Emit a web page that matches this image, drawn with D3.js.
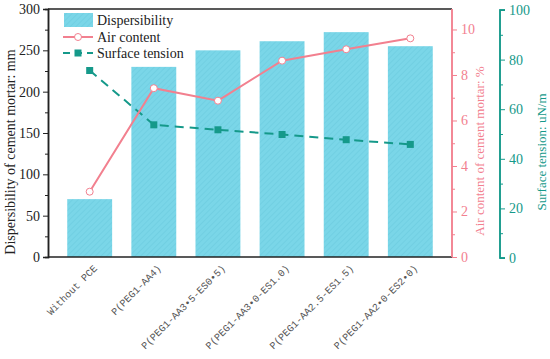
<!DOCTYPE html>
<html>
<head>
<meta charset="utf-8">
<script src="https://cdn.jsdelivr.net/npm/d3@7"></script>
<style>
body { margin: 0; background: #fff; }
text { font-family: "Liberation Serif", "Times New Roman", serif; }
</style>
</head>
<body>
<svg id="chart" width="550" height="359"></svg>
<script>
var categories = ['Without PCE', 'P(PEG1-AA4)', 'P(PEG1-AA3\u20225-ES0\u20225)',
    'P(PEG1-AA3\u20220-ES1.0)', 'P(PEG1-AA2.5-ES1.5)', 'P(PEG1-AA2\u20220-ES2\u20220)'];
var dispersibility = [70, 230, 250, 261, 272, 255];
var airContent = [2.87, 7.42, 6.87, 8.63, 9.13, 9.61];
var surfaceTension = [75.6, 53.7, 51.7, 49.8, 47.7, 45.8];
var leftTicks = [0, 50, 100, 150, 200, 250, 300];
var airTicks = [0, 2, 4, 6, 8, 10];
var tensionTicks = [0, 20, 40, 60, 80, 100];

var pink = '#f2808f', teal = '#15998a', barFill = '#7ad6e8';
var serif = '"Liberation Serif", "Times New Roman", serif';

var svg = d3.select('#chart');
var pLeft = 48, pRight = 452, pTop = 9, pBottom = 257;

var defs = svg.append('defs');
var pat = defs.append('pattern').attr('id', 'hatch')
    .attr('patternUnits', 'userSpaceOnUse').attr('width', 4).attr('height', 4)
    .attr('patternTransform', 'rotate(45)');
pat.append('rect').attr('width', 4).attr('height', 4).attr('fill', barFill);
pat.append('line').attr('x1', 0).attr('y1', 0).attr('x2', 0).attr('y2', 4)
    .attr('stroke', '#6acbde').attr('stroke-width', 1.2);

var x = d3.scaleBand().domain(categories).range([pLeft, pRight]).padding(0.3);
var y = d3.scaleLinear().domain([0, 300]).range([pBottom, pTop]);
var yAir = d3.scaleLinear().domain([0, 10.9]).range([pBottom, pTop]);
var yTen = d3.scaleLinear().domain([0, 100]).range([258, 10]);

// bars
svg.append('g').selectAll('rect').data(dispersibility).enter().append('rect')
    .attr('x', function(d, i) { return x(categories[i]); })
    .attr('y', function(d) { return y(d); })
    .attr('width', x.bandwidth())
    .attr('height', function(d) { return pBottom - y(d); })
    .attr('fill', 'url(#hatch)');

// frame
svg.append('line').attr('x1', pLeft).attr('x2', pRight).attr('y1', pTop).attr('y2', pTop)
    .attr('stroke', '#222').attr('stroke-width', 1.5);

// left axis
var gL = svg.append('g').attr('transform', 'translate(' + pLeft + ',0)')
    .call(d3.axisLeft(y).tickValues(leftTicks).tickSize(5).tickPadding(3))
    .attr('font-family', serif);
gL.append('g').call(d3.axisLeft(y).tickValues(d3.range(25, 300, 50)).tickSize(3).tickFormat(''));
gL.selectAll('.domain').attr('stroke', '#222').attr('stroke-width', 1.5);
gL.selectAll('line').attr('stroke', '#222');
gL.selectAll('text').attr('font-size', 14).attr('fill', '#222').style('font-family', serif);

// bottom axis
var gB = svg.append('g').attr('transform', 'translate(0,' + pBottom + ')')
    .call(d3.axisBottom(x).tickSize(0).tickPadding(0));
gB.select('.domain').attr('stroke', '#222').attr('stroke-width', 1.5)
    .attr('d', 'M' + pLeft + ',0H' + pRight);
gB.selectAll('text')
    .attr('font-size', 10).attr('fill', '#555')
    .style('font-family', '"Liberation Mono", monospace')
    .attr('text-anchor', 'end')
    .attr('dy', 0).attr('y', 0)
    .attr('transform', 'translate(8,12) rotate(-45)');

// air content axis
var gA = svg.append('g').attr('transform', 'translate(' + pRight + ',0)')
    .call(d3.axisRight(yAir).tickValues(airTicks).tickSize(5).tickPadding(4))
    .attr('font-family', serif);
gA.append('g').call(d3.axisRight(yAir).tickValues([1, 3, 5, 7, 9]).tickSize(3).tickFormat(''));
gA.selectAll('.domain').attr('stroke', pink).attr('stroke-width', 1.5)
    .attr('d', 'M0,' + pBottom + 'V' + pTop);
gA.selectAll('line').attr('stroke', pink);
gA.selectAll('text').attr('font-size', 14).attr('fill', pink).style('font-family', serif);

// surface tension axis
var gT = svg.append('g').attr('transform', 'translate(500,0)')
    .call(d3.axisRight(yTen).tickValues(tensionTicks).tickSize(5).tickPadding(4))
    .attr('font-family', serif);
gT.append('g').call(d3.axisRight(yTen).tickValues([10, 30, 50, 70, 90]).tickSize(3).tickFormat(''));
gT.selectAll('.domain').attr('stroke', teal).attr('stroke-width', 1.5)
    .attr('d', 'M5,' + yTen(100) + 'H0V' + yTen(0) + 'H5');
gT.selectAll('line').attr('stroke', teal);
gT.selectAll('text').attr('font-size', 14).attr('fill', teal).style('font-family', serif);

// axis titles
svg.append('text').attr('transform', 'translate(15,152) rotate(-90)')
    .attr('text-anchor', 'middle').attr('font-size', 14).attr('fill', '#222')
    .text('Dispersibility of cement mortar: mm');
svg.append('text').attr('transform', 'translate(484,151) rotate(-90)')
    .attr('text-anchor', 'middle').attr('font-size', 13).attr('fill', pink)
    .text('Air content of cement mortar: %');
svg.append('text').attr('transform', 'translate(546,152) rotate(-90)')
    .attr('text-anchor', 'middle').attr('font-size', 13).attr('fill', teal)
    .text('Surface tension: uN/m');

var cx = function(i) { return x(categories[i]) + x.bandwidth() / 2; };

// surface tension line
svg.append('path').datum(surfaceTension)
    .attr('d', d3.line().x(function(d, i) { return cx(i); }).y(function(d) { return yTen(d); }))
    .attr('fill', 'none').attr('stroke', teal).attr('stroke-width', 2)
    .attr('stroke-dasharray', '9,6');
svg.append('g').selectAll('rect').data(surfaceTension).enter().append('rect')
    .attr('x', function(d, i) { return cx(i) - 3.5; })
    .attr('y', function(d) { return yTen(d) - 3.5; })
    .attr('width', 7).attr('height', 7).attr('fill', teal);

// air content line
svg.append('path').datum(airContent)
    .attr('d', d3.line().x(function(d, i) { return cx(i); }).y(function(d) { return yAir(d); }))
    .attr('fill', 'none').attr('stroke', pink).attr('stroke-width', 2);
svg.append('g').selectAll('circle').data(airContent).enter().append('circle')
    .attr('cx', function(d, i) { return cx(i); })
    .attr('cy', function(d) { return yAir(d); })
    .attr('r', 3.5).attr('fill', '#fff').attr('stroke', pink).attr('stroke-width', 1);

// legend
var lg = svg.append('g');
lg.append('rect').attr('x', 64).attr('y', 13).attr('width', 29).attr('height', 14).attr('fill', 'url(#hatch)');
lg.append('line').attr('x1', 63).attr('x2', 93).attr('y1', 37).attr('y2', 37)
    .attr('stroke', pink).attr('stroke-width', 2);
lg.append('circle').attr('cx', 78).attr('cy', 37).attr('r', 3.5)
    .attr('fill', '#fff').attr('stroke', pink);
lg.append('line').attr('x1', 63).attr('x2', 93).attr('y1', 53).attr('y2', 53)
    .attr('stroke', teal).attr('stroke-width', 2).attr('stroke-dasharray', '7,5');
lg.append('rect').attr('x', 74.5).attr('y', 49.5).attr('width', 7).attr('height', 7).attr('fill', teal);
var legendLabels = ['Dispersibility', 'Air content', 'Surface tension'];
lg.selectAll('text.lbl').data(legendLabels).enter().append('text')
    .attr('x', 97).attr('y', function(d, i) { return 25 + i * 16.5; })
    .attr('font-size', 14).attr('fill', '#222').text(function(d) { return d; });
</script>
</body>
</html>
